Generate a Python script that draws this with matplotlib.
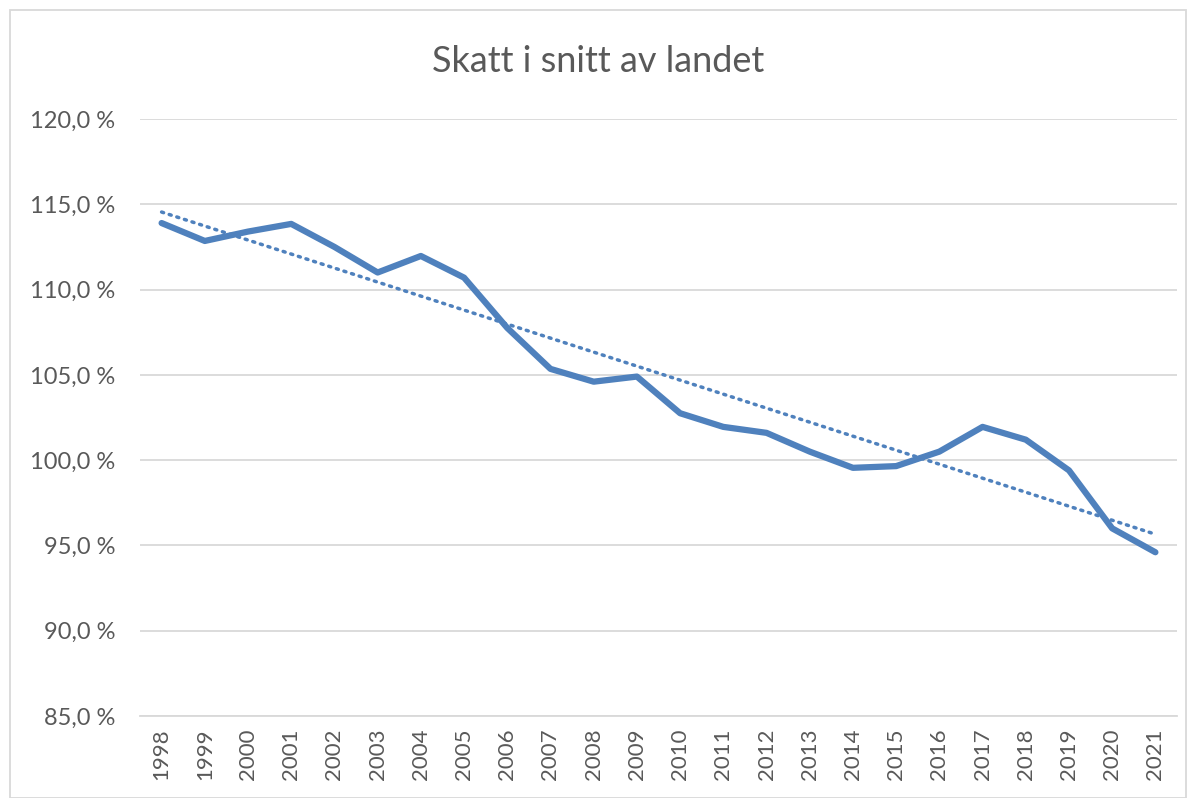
import numpy as np
import matplotlib.pyplot as plt
from matplotlib.patches import Rectangle
from matplotlib.ticker import FuncFormatter

years = [str(y) for y in range(1998, 2022)]
skatt = [113.9, 112.85, 113.4, 113.85, 112.5, 111.0, 111.97, 110.7, 107.75, 105.35,
         104.6, 104.9, 102.75, 101.95, 101.6, 100.5, 99.55, 99.65, 100.5, 101.95,
         101.2, 99.4, 96.0, 94.6]

plt.rcParams['font.family'] = ['Lato', 'DejaVu Sans']

fig = plt.figure(figsize=(11.96, 7.98), dpi=100)
ax = fig.add_axes([140 / 1196, 1 - 716 / 798, 1037 / 1196, 597 / 798])

x = np.arange(len(years))
ax.plot(x, skatt, color='#4F81BD', lw=4.5, solid_capstyle='round', solid_joinstyle='round', zorder=3)

# lineær trendlinje
k, m = np.polyfit(x, skatt, 1)
ax.plot(x, k * x + m, color='#4F81BD', lw=2.5, linestyle=(0, (0.6, 1.7)),
        dash_capstyle='round', zorder=2)

ax.set_xlim(-0.5, len(years) - 0.5)
ax.set_ylim(85, 120)
ax.set_yticks(np.arange(85, 121, 5))
ax.yaxis.set_major_formatter(FuncFormatter(lambda v, p: f'{v:.1f} %'.replace('.', ',')))
ax.set_xticks(x)
ax.set_xticklabels(years, rotation=90)
ax.grid(axis='y', color='#D9D9D9', lw=1.3)
ax.set_axisbelow(True)
for s in ['top', 'right', 'left']:
    ax.spines[s].set_visible(False)
ax.spines['bottom'].set_color('#D9D9D9')
ax.spines['bottom'].set_linewidth(1.3)
ax.tick_params(length=0, labelcolor='#595959')
ax.tick_params(axis='y', pad=18, labelsize=17)
ax.tick_params(axis='x', pad=9, labelsize=16)

fig.text(0.5, 1 - 62 / 798, 'Skatt i snitt av landet', ha='center', va='center',
         fontsize=26, color='#595959')
fig.patches.append(Rectangle((10 / 1196, 0), 1176 / 1196, 1 - 10 / 798, transform=fig.transFigure,
                             fill=False, edgecolor='#D9D9D9', lw=1.3))

fig.savefig('out.png', dpi=100)
